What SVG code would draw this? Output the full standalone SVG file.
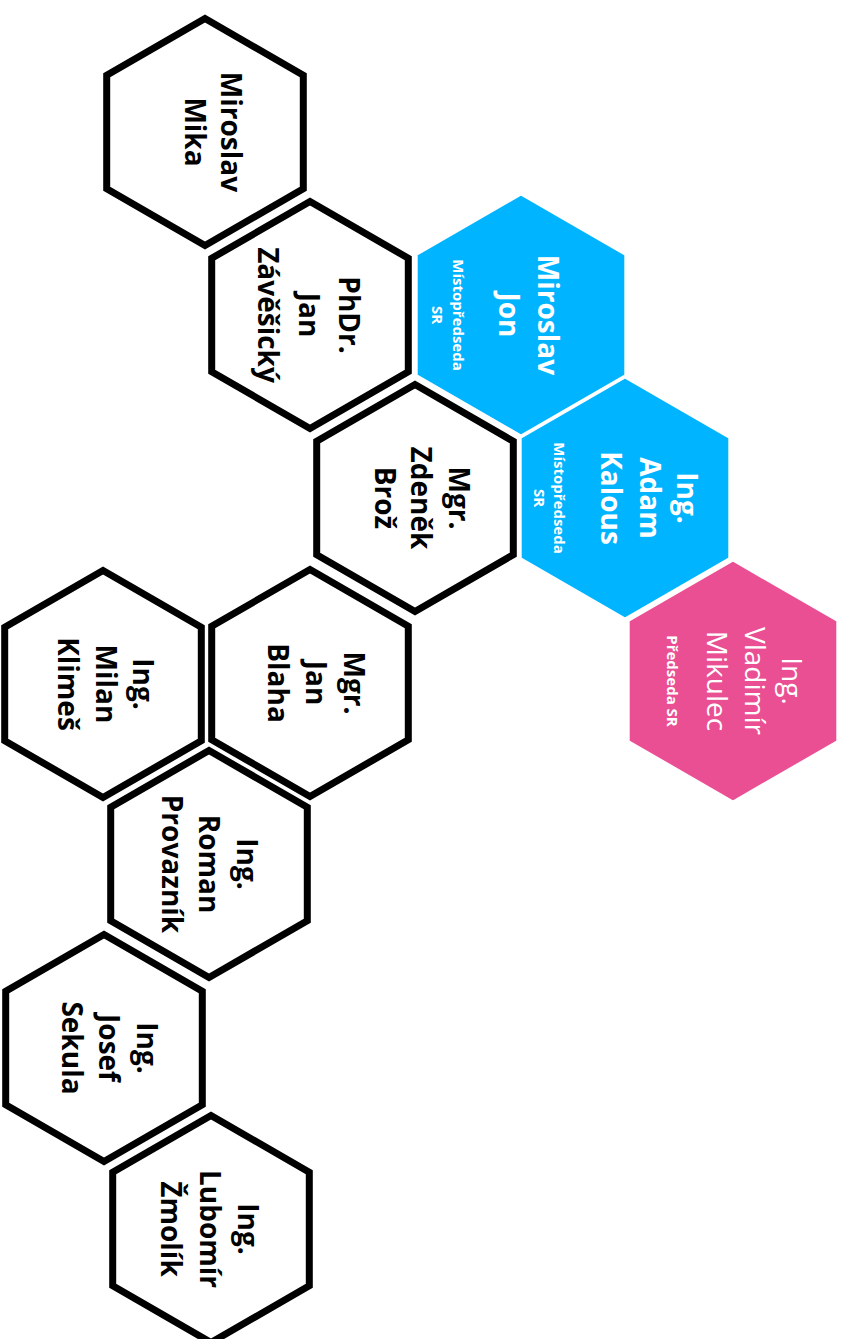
<svg xmlns="http://www.w3.org/2000/svg" xmlns:xlink="http://www.w3.org/1999/xlink" width="845" height="1339" viewBox="0 0 845 1339">
<style>
.hb{fill:#fff;stroke:#000;stroke-width:7;stroke-linejoin:miter}
.hblue{fill:#00B4FF;stroke:#fff;stroke-width:3}
.hpink{fill:#EA4F93;stroke:#fff;stroke-width:3}
.t{font-family:"Open Sans","Noto Sans","DejaVu Sans",sans-serif;font-size:28px;font-weight:bold;fill:#000;text-anchor:middle}
.tw{font-family:"Open Sans","Noto Sans","DejaVu Sans",sans-serif;font-size:28px;font-weight:bold;fill:#fff;text-anchor:middle}
.tr{font-family:"Open Sans","Noto Sans","DejaVu Sans",sans-serif;font-size:28px;font-weight:normal;fill:#fff;text-anchor:middle}
.ts{font-family:"Open Sans","Noto Sans","DejaVu Sans",sans-serif;font-size:15px;font-weight:bold;fill:#fff;text-anchor:middle}
</style>
<defs>
<polygon id="hexb" points="0,-113.5 98.3,-56.75 98.3,56.75 0,113.5 -98.3,56.75 -98.3,-56.75"/>
<polygon id="hexc" points="0,-121 104.8,-60.5 104.8,60.5 0,121 -104.8,60.5 -104.8,-60.5"/>
</defs>
<rect width="845" height="1339" fill="#fff"/>
<g id="connectors"></g>

<g id="n-mika" transform="translate(205,132)">
<use href="#hexb" class="hb"/>
<text class="t" transform="rotate(90)"><tspan x="0" y="-16">Miroslav</tspan><tspan x="0" y="20">Mika</tspan></text>
</g>

<g id="n-zavesicky" transform="translate(310,315)">
<use href="#hexb" class="hb"/>
<text class="t" transform="rotate(90)"><tspan x="0" y="-29">PhDr.</tspan><tspan x="0" y="11">Jan</tspan><tspan x="0" y="52">Závěšický</tspan></text>
</g>

<g id="n-broz" transform="translate(415,498)">
<use href="#hexb" class="hb"/>
<text class="t" transform="rotate(90)"><tspan x="0" y="-34">Mgr.</tspan><tspan x="0" y="4">Zdeněk</tspan><tspan x="0" y="40">Brož</tspan></text>
</g>

<g id="n-blaha" transform="translate(310,683)">
<use href="#hexb" class="hb"/>
<text class="t" transform="rotate(90)"><tspan x="0" y="-34">Mgr.</tspan><tspan x="0" y="4">Jan</tspan><tspan x="0" y="42">Blaha</tspan></text>
</g>

<g id="n-klimes" transform="translate(103,684)">
<use href="#hexb" class="hb"/>
<text class="t" transform="rotate(90)"><tspan x="0" y="-30">Ing.</tspan><tspan x="0" y="7">Milan</tspan><tspan x="0" y="45">Klimeš</tspan></text>
</g>

<g id="n-provaznik" transform="translate(209,864)">
<use href="#hexb" class="hb"/>
<text class="t" transform="rotate(90)"><tspan x="0" y="-28">Ing.</tspan><tspan x="0" y="10">Roman</tspan><tspan x="0" y="47">Provazník</tspan></text>
</g>

<g id="n-sekula" transform="translate(104,1048)">
<use href="#hexb" class="hb"/>
<text class="t" transform="rotate(90)"><tspan x="0" y="-33">Ing.</tspan><tspan x="0" y="5">Josef</tspan><tspan x="0" y="42">Sekula</tspan></text>
</g>

<g id="n-zmolik" transform="translate(211,1229)">
<use href="#hexb" class="hb"/>
<text class="t" transform="rotate(90)"><tspan x="0" y="-27">Ing.</tspan><tspan x="0" y="11">Lubomír</tspan><tspan x="0" y="50">Žmolík</tspan></text>
</g>

<g id="n-jon" transform="translate(521,315)">
<use href="#hexc" class="hblue"/>
<text class="tw" transform="rotate(90)"><tspan x="0" y="-17">Miroslav</tspan><tspan x="0" y="22">Jon</tspan></text>
<text class="ts" transform="rotate(90)"><tspan x="0" y="68">Místopředseda</tspan><tspan x="0" y="89">SR</tspan></text>
</g>

<g id="n-kalous" transform="translate(625,498)">
<use href="#hexc" class="hblue"/>
<text class="tw" transform="rotate(90)"><tspan x="0" y="-52">Ing.</tspan><tspan x="0" y="-15">Adam</tspan><tspan x="0" y="24">Kalous</tspan></text>
<text class="ts" transform="rotate(90)"><tspan x="0" y="71">Místopředseda</tspan><tspan x="0" y="91">SR</tspan></text>
</g>

<g id="n-mikulec" transform="translate(733,681)">
<use href="#hexc" class="hpink"/>
<text class="tr" transform="rotate(90)"><tspan x="0" y="-49">Ing.</tspan><tspan x="0" y="-12">Vladimír</tspan><tspan x="0" y="26">Mikulec</tspan></text>
<text class="ts" transform="rotate(90)"><tspan x="0" y="66">Předseda SR</tspan></text>
</g>
</svg>
